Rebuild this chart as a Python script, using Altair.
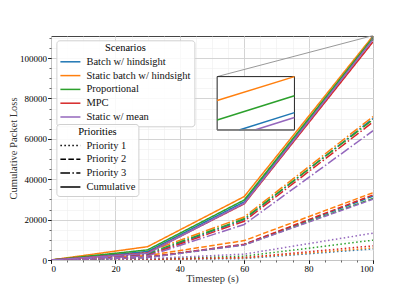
import altair as alt
import pandas as pd

FONT = "Liberation Serif"

# ---------------- data ----------------
timesteps = [0, 30, 60, 100]
scenarios = ["Batch w/ hindsight", "Static batch w/ hindsight", "Proportional", "MPC", "Static w/ mean"]
scenario_colors = ["#1f77b4", "#ff7f0e", "#2ca02c", "#d62728", "#9467bd"]
priorities = ["Priority 1", "Priority 2", "Priority 3", "Cumulative"]
priority_dashes = [[1.5, 2.475], [5.55, 2.4], [9.6, 2.4, 1.5, 2.4], [1, 0]]

loss_priority1 = {
    "Batch w/ hindsight":        [0, 200, 700, 5500],
    "Static batch w/ hindsight": [0, 300, 1000, 6000],
    "Proportional":              [0, 400, 1900, 9800],
    "MPC":                       [0, 300, 1200, 7000],
    "Static w/ mean":            [0, 700, 2900, 13300],
}
loss_priority2 = {
    "Batch w/ hindsight":        [0, 1300, 7700, 31600],
    "Static batch w/ hindsight": [0, 2200, 9600, 33300],
    "Proportional":              [0, 1300, 7500, 30500],
    "MPC":                       [0, 1400, 7800, 32200],
    "Static w/ mean":            [0, 1200, 7400, 30100],
}
loss_priority3 = {
    "Batch w/ hindsight":        [0, 2700, 20000, 70000],
    "Static batch w/ hindsight": [0, 4000, 21300, 71000],
    "Proportional":              [0, 3200, 20400, 69500],
    "MPC":                       [0, 2300, 19200, 68300],
    "Static w/ mean":            [0, 2000, 17600, 64000],
}
loss_cumulative = {
    "Batch w/ hindsight":        [0, 4200, 28800, 109400],
    "Static batch w/ hindsight": [0, 6600, 31400, 110900],
    "Proportional":              [0, 5000, 29700, 110100],
    "MPC":                       [0, 3500, 27800, 108000],
    "Static w/ mean":            [0, 3300, 28100, 109200],
}

x_major_ticks = [0, 20, 40, 60, 80, 100]
x_minor_ticks = [0, 5, 10, 15, 20, 25, 30, 35, 40, 45, 50, 55, 60, 65, 70, 75, 80, 85, 90, 95, 100]
y_major_ticks = [0, 20000, 40000, 60000, 80000, 100000]
y_minor_ticks = [0, 5000, 10000, 15000, 20000, 25000, 30000, 35000, 40000, 45000, 50000,
                 55000, 60000, 65000, 70000, 75000, 80000, 85000, 90000, 95000, 100000, 105000, 110000]

X_DOMAIN = [0, 100]
Y_DOMAIN = [0, 110900]
# zoomed region shown in the inset (data units)
ZOOM_T = [99.5, 100]
ZOOM_LOSS = [108680, 110900]
# where the inset sits on the main axes (data units of the main plot)
INSET_T = [51.6, 75.6]
INSET_LOSS = [64400, 90800]

# ---------------- layout ----------------
W, H = 322, 224


def px(t):
    return W * (t - X_DOMAIN[0]) / (X_DOMAIN[1] - X_DOMAIN[0])


def py(v):
    return H * (1 - (v - Y_DOMAIN[0]) / (Y_DOMAIN[1] - Y_DOMAIN[0]))


series = {"Priority 1": loss_priority1, "Priority 2": loss_priority2,
          "Priority 3": loss_priority3, "Cumulative": loss_cumulative}
rows = []
for p in priorities:
    for s in scenarios:
        for t, v in zip(timesteps, series[p][s]):
            rows.append({"t": t, "loss": v, "scenario": s, "priority": p})
df = pd.DataFrame(rows)

inset_df = pd.DataFrame({
    "scenario": scenarios,
    "t_a": [timesteps[-2]] * len(scenarios),
    "t_b": [timesteps[-1]] * len(scenarios),
    "v_a": [loss_cumulative[s][-2] for s in scenarios],
    "v_b": [loss_cumulative[s][-1] for s in scenarios],
})

dummy = pd.DataFrame({"k": [0]})

xs = alt.Scale(domain=X_DOMAIN, nice=False, zero=False)
ys = alt.Scale(domain=Y_DOMAIN, nice=False, zero=False)
color_scale = alt.Scale(domain=scenarios, range=scenario_colors)

x_axis_major = alt.Axis(values=x_major_ticks, orient="bottom", format="d", grid=True, gridColor="#cccccc",
                        gridWidth=0.8, tickSize=3.5, tickWidth=0.8, tickColor="#000", domain=False,
                        labelFont=FONT, labelFontSize=9, labelColor="#000", labelPadding=0.5,
                        title="Timestep (s)", titleFont=FONT, titleFontSize=10.5, titleFontWeight="normal",
                        titleColor="#333", titlePadding=0)
y_axis_major = alt.Axis(values=y_major_ticks, orient="left", format="d", grid=True, gridColor="#cccccc",
                        gridWidth=0.8, tickSize=3.5, tickWidth=0.8, tickColor="#000", domain=False,
                        labelFont=FONT, labelFontSize=9, labelColor="#000", labelPadding=1,
                        title="Cumulative Packet Loss", titleFont=FONT, titleFontSize=10.5,
                        titleFontWeight="normal", titleColor="#333", titlePadding=1)
x_axis_minor = alt.Axis(values=x_minor_ticks, orient="bottom", grid=True, gridColor="#eeeeee", gridWidth=0.6,
                        tickSize=2, tickWidth=0.6, tickColor="#000", domain=False, labels=False, title=None)
y_axis_minor = alt.Axis(values=y_minor_ticks, orient="left", grid=True, gridColor="#eeeeee", gridWidth=0.6,
                        tickSize=2, tickWidth=0.6, tickColor="#000", domain=False, labels=False, title=None)

legend_common = dict(
    orient="none", fillColor="rgba(255,255,255,0.85)", strokeColor="#d0d0d0", cornerRadius=3,
    padding=3, titleFont=FONT, titleFontSize=10.5, titleFontWeight="normal", titleColor="#000",
    titleAnchor="middle", titleAlign="center", titlePadding=2,
    labelFont=FONT, labelFontSize=10.5, labelFontWeight="normal", labelColor="#111",
    symbolType="M-1,0H3", symbolSize=100, symbolStrokeWidth=1.5, labelOffset=15, rowPadding=1.8,
)

minor = alt.Chart(df).mark_line(opacity=0).encode(
    x=alt.X("t:Q", scale=xs, axis=x_axis_minor),
    y=alt.Y("loss:Q", scale=ys, axis=y_axis_minor),
    detail="scenario:N",
)

lines = alt.Chart(df).mark_line(strokeWidth=1.5, clip=True).encode(
    x=alt.X("t:Q", scale=xs, axis=x_axis_major),
    y=alt.Y("loss:Q", scale=ys, axis=y_axis_major),
    color=alt.Color("scenario:N", scale=color_scale, sort=scenarios,
                    legend=alt.Legend(title="Scenarios", legendX=5.4, legendY=4.3, **legend_common)),
    strokeDash=alt.StrokeDash("priority:N", scale=alt.Scale(domain=priorities, range=priority_dashes),
                              sort=priorities,
                              legend=alt.Legend(title="Priorities", legendX=5.4, legendY=88,
                                                symbolStrokeColor="#000", **legend_common)),
)

# indicator of the zoomed region on the main axes
zoom_rect = alt.Chart(dummy).mark_rect(fill=None, stroke="#777", strokeWidth=1).encode(
    x=alt.X(datum=ZOOM_T[0], type="quantitative", scale=xs, axis=None),
    x2=alt.X2(datum=ZOOM_T[1]),
    y=alt.Y(datum=ZOOM_LOSS[0], type="quantitative", scale=ys, axis=None),
    y2=alt.Y2(datum=ZOOM_LOSS[1]),
)

connector = alt.Chart(dummy).mark_rule(stroke="#999", strokeWidth=1).encode(
    x=alt.X(datum=INSET_T[0], type="quantitative", scale=xs, axis=None),
    x2=alt.X2(datum=ZOOM_T[0]),
    y=alt.Y(datum=INSET_LOSS[1], type="quantitative", scale=ys, axis=None),
    y2=alt.Y2(datum=ZOOM_LOSS[1]),
)

inset_frame = alt.Chart(dummy).mark_rect(fill="white", stroke="#222", strokeWidth=1).encode(
    x=alt.X(datum=INSET_T[0], type="quantitative", scale=xs, axis=None),
    x2=alt.X2(datum=INSET_T[1]),
    y=alt.Y(datum=INSET_LOSS[0], type="quantitative", scale=ys, axis=None),
    y2=alt.Y2(datum=INSET_LOSS[1]),
)

inset_bottom = alt.Chart(dummy).mark_rule(stroke="#808080", strokeWidth=1.5).encode(
    x=alt.X(datum=INSET_T[0], type="quantitative", scale=xs, axis=None),
    x2=alt.X2(datum=INSET_T[1]),
    y=alt.Y(datum=INSET_LOSS[0], type="quantitative", scale=ys, axis=None),
)

inset_xs = alt.Scale(domain=ZOOM_T, range=[px(INSET_T[0]), px(INSET_T[1])], nice=False, zero=False)
inset_ys = alt.Scale(domain=ZOOM_LOSS, range=[py(INSET_LOSS[0]), py(INSET_LOSS[1])], nice=False, zero=False)

inset_lines = alt.Chart(inset_df).transform_filter(
    f"datum.v_b > {ZOOM_LOSS[0]}"
).transform_calculate(
    slope="(datum.v_b - datum.v_a) / (datum.t_b - datum.t_a)"
).transform_calculate(
    x_in=f"max({ZOOM_T[0]}, datum.t_b - (datum.v_b - {ZOOM_LOSS[0]}) / datum.slope)"
).transform_calculate(
    y_in="datum.v_b - datum.slope * (datum.t_b - datum.x_in)"
).mark_rule(strokeWidth=1.5).encode(
    x=alt.X("x_in:Q", scale=inset_xs, axis=None),
    x2="t_b:Q",
    y=alt.Y("y_in:Q", scale=inset_ys, axis=None),
    y2="v_b:Q",
    color=alt.Color("scenario:N", scale=color_scale, legend=None),
)

chart = alt.layer(
    minor, lines, zoom_rect, connector, inset_frame, inset_lines, inset_bottom
).resolve_scale(
    x="independent", y="independent"
).properties(
    width=W, height=H,
    padding={"left": 0, "top": 27, "right": 5, "bottom": 0},
).configure(
    font=FONT
).configure_view(
    stroke="#444", strokeWidth=1
)

chart.save("out.html", embed_options={"renderer": "svg", "actions": False})
